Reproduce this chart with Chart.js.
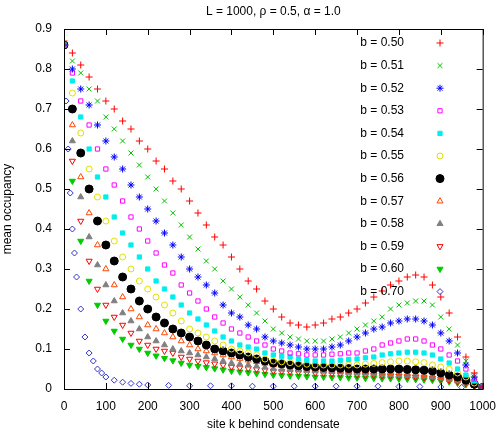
<!DOCTYPE html>
<html><head><meta charset="utf-8">
<script src="https://cdn.jsdelivr.net/npm/chart.js@4"></script>
<style>html,body{margin:0;padding:0;background:#fff}</style>
</head><body>
<canvas id="c" width="498" height="432"></canvas>
<script>
const sites = [0,20,40,60,80,100,120,140,160,180,200,220,240,260,280,300,320,340,360,380,400,420,440,460,480,500,520,540,560,580,600,620,640,660,680,700,720,740,760,780,800,820,840,860,880,900,920,940,960,980,1000];
const sites70 = [0,5,10,15,20,25,30,40,50,60,70,80,90,100,120,140,160,180,200,250,300,350,400,450,500,550,600,650,700,750,800,850,900,950,1000];
const labels = ["b = 0.50","b = 0.51","b = 0.52","b = 0.53","b = 0.54","b = 0.55","b = 0.56","b = 0.57","b = 0.58","b = 0.59","b = 0.60","b = 0.70"];
const b050=[.87,.84,.81,.78,.75,.72,.70,.67,.65,.62,.60,.57,.55,.52,.50,.47,.44,.41,.38,.36,.33,.30,.27,.25,.22,.20,.18,.165,.16,.155,.16,.165,.175,.18,.19,.20,.215,.23,.245,.26,.27,.28,.285,.28,.26,.23,.19,.13,.08,.04,.005];
const b051=[.86,.82,.79,.75,.72,.68,.65,.62,.59,.56,.53,.50,.47,.44,.41,.38,.35,.32,.30,.27,.25,.23,.21,.19,.17,.15,.14,.13,.125,.12,.12,.12,.125,.13,.14,.15,.16,.17,.18,.20,.21,.215,.22,.22,.21,.18,.15,.11,.07,.035,.005];
const b052=[.86,.80,.75,.71,.66,.62,.58,.55,.51,.48,.45,.42,.39,.36,.33,.30,.28,.26,.24,.21,.19,.18,.16,.15,.13,.12,.115,.11,.105,.10,.10,.10,.105,.11,.12,.13,.14,.15,.155,.165,.17,.175,.175,.17,.16,.14,.12,.09,.06,.03,.005];
const b053=[.86,.79,.72,.66,.60,.55,.51,.47,.43,.40,.37,.34,.31,.29,.26,.24,.22,.20,.18,.165,.15,.14,.13,.12,.11,.10,.095,.09,.088,.085,.085,.085,.087,.088,.09,.09,.095,.10,.11,.115,.12,.125,.125,.12,.11,.10,.085,.07,.05,.025,.005];
const b054=[.86,.77,.68,.60,.53,.48,.43,.39,.36,.33,.30,.27,.25,.23,.21,.19,.175,.16,.145,.13,.12,.11,.105,.10,.09,.085,.082,.08,.075,.072,.07,.07,.07,.072,.074,.075,.078,.08,.085,.088,.09,.092,.092,.09,.085,.075,.065,.05,.035,.02,.005];
const b055=[.86,.74,.64,.55,.48,.42,.37,.33,.30,.27,.25,.23,.21,.19,.17,.15,.14,.13,.12,.11,.10,.095,.09,.085,.075,.07,.068,.066,.064,.062,.06,.06,.06,.06,.06,.06,.062,.064,.066,.068,.07,.07,.068,.066,.06,.055,.05,.04,.03,.015,.005];
const b056=[.86,.70,.59,.50,.42,.36,.32,.28,.25,.22,.20,.18,.165,.15,.14,.13,.12,.11,.10,.095,.09,.085,.08,.075,.07,.065,.063,.06,.058,.056,.055,.054,.053,.052,.051,.05,.05,.05,.05,.05,.05,.049,.048,.047,.045,.04,.035,.03,.022,.012,.004];
const b057=[.86,.66,.53,.44,.36,.30,.26,.23,.20,.18,.16,.15,.14,.13,.12,.11,.10,.095,.09,.085,.08,.076,.072,.068,.064,.06,.058,.056,.054,.052,.05,.049,.048,.047,.046,.045,.044,.043,.042,.041,.04,.039,.038,.036,.034,.031,.027,.022,.017,.01,.004];
const b058=[.86,.62,.48,.38,.31,.26,.22,.19,.17,.15,.13,.12,.11,.10,.095,.09,.085,.08,.075,.07,.065,.062,.06,.057,.054,.05,.049,.048,.047,.046,.045,.044,.043,.042,.041,.04,.039,.038,.037,.036,.035,.034,.033,.032,.03,.027,.024,.02,.015,.009,.004];
const b059=[.86,.57,.42,.32,.25,.21,.18,.16,.14,.12,.11,.10,.095,.09,.08,.075,.07,.066,.063,.06,.055,.053,.051,.049,.047,.045,.044,.043,.042,.041,.04,.039,.038,.037,.036,.035,.034,.034,.033,.033,.032,.031,.03,.029,.027,.025,.022,.018,.014,.008,.003];
const b060=[.86,.52,.37,.27,.21,.17,.145,.125,.11,.10,.09,.083,.077,.071,.065,.06,.057,.054,.051,.048,.045,.043,.041,.039,.037,.035,.034,.033,.032,.031,.03,.03,.029,.029,.028,.028,.027,.027,.026,.026,.025,.025,.024,.023,.022,.02,.018,.015,.011,.007,.003];
const b070=[.86,.72,.60,.49,.40,.34,.28,.20,.13,.09,.07,.05,.04,.03,.022,.017,.014,.012,.01,.009,.008,.008,.008,.007,.007,.007,.007,.007,.007,.007,.006,.006,.005,.004,.002];
const xTicks=[0,100,200,300,400,500,600,700,800,900,1000];
const yTicks=[0,0.1,0.2,0.3,0.4,0.5,0.6,0.7,0.8,0.9];

const series=[b050,b051,b052,b053,b054,b055,b056,b057,b058,b059,b060,b070];
const colors=['#ff0000','#00c000','#0000ff','#ff00ff','#00eeee','#e0e000','#000000','#ff4500','#808080','#ff0000','#00cc00','#3333cc'];
const styles=[['cross',false,0],['crossRot',false,0],['star',false,0],['rect',false,0],['rect',true,0],['circle',false,0],['circle',true,0],['triangle',false,0],['triangle',true,0],['triangle',false,180],['triangle',true,180],['rectRot',false,0]];
const radii=[3.5,3.5,3.5,3,3,3,4,3.5,3.5,3.5,3.5,3];
const datasets=series.map((s,i)=>{
  const xs = i===11?sites70:sites;
  return {label:labels[i],data:s.map((v,j)=>({x:xs[j],y:v})),showLine:false,
    pointStyle:styles[i][0],pointRotation:styles[i][2],pointRadius:radii[i],
    borderColor:colors[i],backgroundColor:styles[i][1]?colors[i]:'rgba(0,0,0,0)',borderWidth:1};
});
const FONT='"Liberation Sans", Arial, sans-serif';
const deco={id:'deco',
  afterDraw(ch){
    const c=ch.ctx,a=ch.chartArea,xs=ch.scales.x,ys=ch.scales.y;
    c.save();c.strokeStyle='#000';c.lineWidth=1;
    c.strokeRect(a.left+0.5,a.top+0.5,a.right-a.left,a.bottom-a.top);
    c.beginPath();
    xTicks.forEach(t=>{const p=Math.round(xs.getPixelForValue(t))+0.5;c.moveTo(p,a.bottom);c.lineTo(p,a.bottom-6);c.moveTo(p,a.top);c.lineTo(p,a.top+6);});
    yTicks.forEach(t=>{const p=Math.round(ys.getPixelForValue(t))+0.5;c.moveTo(a.left,p);c.lineTo(a.left+6,p);c.moveTo(a.right,p);c.lineTo(a.right-6,p);});
    c.stroke();
    c.fillStyle='#000';c.font='12px '+FONT;c.textAlign='center';c.textBaseline='middle';
    c.fillText('L = 1000, \u03c1 = 0.5, \u03b1 = 1.0',(a.left+a.right)/2,12);
    c.textAlign='right';
    ch.data.datasets.forEach((d,i)=>{
      const y=43+i*22.6;
      c.fillStyle='#000';c.fillText(d.label,404,y);
      c.strokeStyle=d.borderColor;c.fillStyle=d.backgroundColor;c.lineWidth=1;
      Chart.helpers.drawPoint(c,{pointStyle:d.pointStyle,rotation:d.pointRotation,radius:d.pointRadius,borderWidth:1},440,y);
    });
    c.restore();
  }};
new Chart(document.getElementById('c'),{type:'scatter',data:{datasets},
  options:{responsive:false,animation:false,devicePixelRatio:1,
    layout:{padding:{top:29,right:15,left:0,bottom:0}},
    plugins:{legend:{display:false},tooltip:{enabled:false}},
    scales:{
      x:{type:'linear',min:0,max:1000,afterBuildTicks:s=>{s.ticks=xTicks.map(v=>({value:v}));},
        afterFit:s=>{s.height=43;},grid:{display:false},border:{display:false},
        ticks:{color:'#000',font:{family:FONT,size:12},padding:2,maxRotation:0,callback:v=>String(v)},
        title:{display:true,text:'site k behind condensate',color:'#000',font:{family:FONT,size:12},padding:{top:2,bottom:0}}},
      y:{type:'linear',min:0,max:0.9,afterBuildTicks:s=>{s.ticks=yTicks.map(v=>({value:v}));},
        afterFit:s=>{s.width=64;},grid:{display:false},border:{display:false},
        ticks:{color:'#000',font:{family:FONT,size:12},padding:4,callback:v=>String(v)},
        title:{display:true,text:'mean occupancy',color:'#000',font:{family:FONT,size:12},padding:{top:0,bottom:4}}}
    }},plugins:[deco]});
</script></body></html>
